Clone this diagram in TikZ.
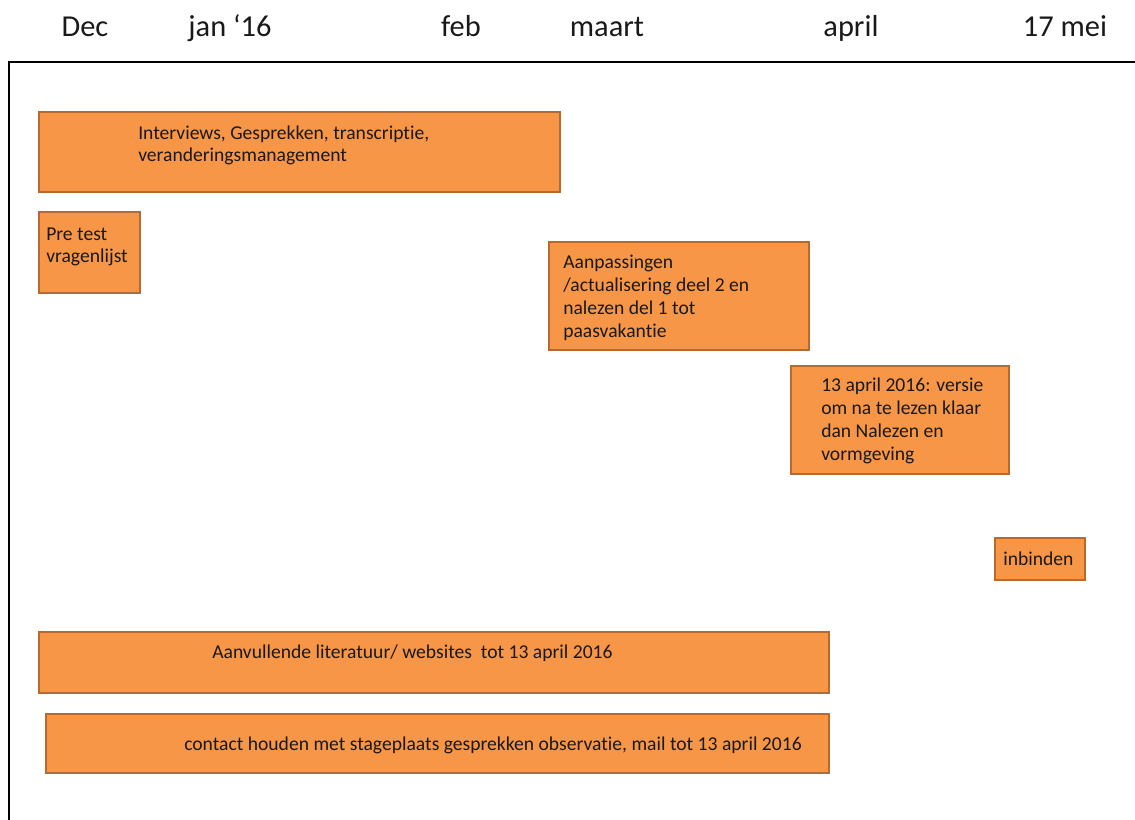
\documentclass[tikz,border=0pt]{standalone}
\usepackage{fontspec}
\setmainfont[Ligatures=NoCommon]{Carlito}
\definecolor{barfill}{HTML}{F79646}
\definecolor{barline}{RGB}{183,106,48}
\begin{document}
\begin{tikzpicture}[x=0.75pt,y=-0.75pt,
  bar/.style={draw=barline, line width=1.5pt, fill=barfill, inner sep=0pt},
  txt/.style={anchor=base west, inner sep=0pt, text=black!90, font={\fontsize{14.7}{16.9}\selectfont}},
  month/.style={anchor=base, inner sep=0pt, text=black!90, font={\fontsize{22.8}{27}\selectfont}}]
\useasboundingbox (0,0) rectangle (1135,819);
% frame
\draw[line width=2.2pt] (9,830) -- (9,62) -- (1145,62);
% months
\node[month] (dec) at (85,36) {Dec};
\node[month] (jan) at (230,36) {jan ‘16};
\node[month] (feb) at (461,36) {feb};
\node[month] (mrt) at (607,36) {maart};
\node[month] (apr) at (851,36) {april};
\node[month] (mei) at (1065,36) {17 mei};
% bars
\path[bar] (39,112) rectangle (560,192);
\node[txt] (t1) at (138,139) {\vtop{\hbox{Interviews, Gesprekken, transcriptie,}\hbox{veranderingsmanagement}}};
\path[bar] (39,212) rectangle (140,293);
\node[txt] (t2) at (46,240) {\vtop{\hbox{Pre test}\hbox{vragenlijst}}};
\path[bar] (549,242) rectangle (809,350);
\node[txt] (t3) at (563,268) {\vtop{\baselineskip=17.3pt\hbox{Aanpassingen}\hbox{/actualisering deel 2 en}\hbox{nalezen del 1 tot}\hbox{paasvakantie}}};
\path[bar] (791,366) rectangle (1009,474);
\node[txt] (t4) at (821,391) {\vtop{\baselineskip=17.3pt\hbox{13 april 2016: versie}\hbox{om na te lezen klaar}\hbox{dan Nalezen en}\hbox{vormgeving}}};
\path[bar] (995,538) rectangle (1085,580);
\node[txt] (t5) at (1003,565) {inbinden};
\path[bar] (39,632) rectangle (829,693);
\node[txt] (t6) at (212,658) {Aanvullende literatuur/ websites\ \ tot 13 april 2016};
\path[bar] (46,714) rectangle (829,773);
\node[txt] (t7) at (184,750) {contact houden met stageplaats gesprekken observatie, mail tot 13 april 2016};
\end{tikzpicture}
\end{document}
